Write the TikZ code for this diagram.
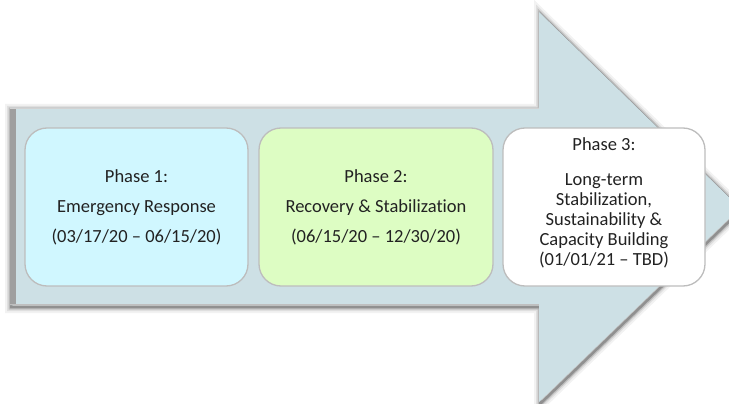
\documentclass[tikz,border=0pt]{standalone}
\usepackage{fontspec}
\setmainfont[Ligatures={NoCommon}]{Carlito}
\definecolor{arrowfill}{HTML}{CDE0E5}
\definecolor{phaseone}{HTML}{D0F7FF}
\definecolor{phasetwo}{HTML}{DDFDC3}
\definecolor{boxline}{HTML}{BDBDBD}
\definecolor{txt}{HTML}{222222}
\tikzset{
  arrowshape/.style={insert path={(10,108) -- (539,108) -- (539,12) -- (740,208) -- (539,402) -- (539,305) -- (10,305) -- cycle}},
  phasebox/.style={draw=boxline, line width=1.3pt, rounded corners=22pt, minimum height=158pt, inner sep=0pt, align=center, text=txt, font=\fontsize{18.5}{30}\selectfont},
  phasetext/.style={inner sep=0pt, align=center, text=txt, font=\fontsize{18.5}{20}\selectfont},
}
\begin{document}
\begin{tikzpicture}[x=1pt,y=-1pt]
\useasboundingbox (0,0) rectangle (729,404);
\clip (0,0) rectangle (729,404);
% arrow shadow
\foreach \w/\o in {12/0.05,8/0.08,5/0.14,2.5/0.25}
  \draw[line width=\w pt, draw=black, opacity=\o, line join=miter, shift={(1,2)}, arrowshape];
\fill[arrowfill, arrowshape];
\fill[gray!75] (10,108) rectangle (16,305);
\draw[gray!35, line width=1.5pt] (10,108.7) -- (539,108.7);
\draw[gray!50, line width=1.5pt] (10,304.3) -- (539,304.3);
% phases
\node[phasebox, fill=phaseone, minimum width=223pt] (p1) at (136.5,207) {Phase 1:\\Emergency Response\\(03/17/20 – 06/15/20)};
\node[phasebox, fill=phasetwo, minimum width=234pt] (p2) at (376,207) {Phase 2:\\Recovery \& Stabilization\\(06/15/20 – 12/30/20)};
\node[phasebox, fill=white, minimum width=202pt] (p3) at (604,207) {};
\node[phasetext] (p3text) at (604,203) {Phase 3:\\[15pt]Long-term\\Stabilization,\\Sustainability \&\\Capacity Building\\(01/01/21 – TBD)};
\end{tikzpicture}
\end{document}
